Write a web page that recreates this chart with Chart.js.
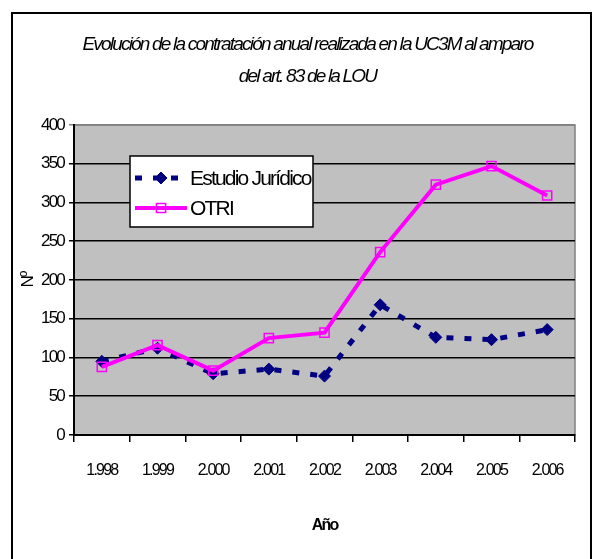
<!DOCTYPE html>
<html>
<head>
<meta charset="utf-8">
<script src="https://cdn.jsdelivr.net/npm/chart.js@4"></script>
<style>
  html, body { margin: 0; padding: 0; background: #fff; }
  canvas { display: block; }
</style>
</head>
<body>
<canvas id="chart" width="596" height="559"></canvas>
<script>
const years = ['1.998', '1.999', '2.000', '2.001', '2.002', '2.003', '2.004', '2.005', '2.006'];
const estudioJuridico = [95, 112, 79, 85, 76, 168, 126, 123, 136];
const otri = [88, 116, 83, 125, 132, 236, 323, 347, 309];
const yTicks = [0, 50, 100, 150, 200, 250, 300, 350, 400];

const fontFamily = "'Liberation Sans', Arial, sans-serif";
Chart.defaults.font.family = fontFamily;
Chart.defaults.color = '#000';

// the original uses a very narrow face, squeeze the letters a bit
const squeeze = '-1.8px';

// grey plot area + outer frame
const plotBg = {
  id: 'plotBg',
  beforeUpdate(chart) {
    chart.ctx.letterSpacing = squeeze;
  },
  afterLayout(chart) {
    // title sits a little right of the canvas centre in the original
    if (chart.titleBlock) chart.titleBlock.left += 40;
  },
  beforeDraw(chart) {
    const { ctx, chartArea: a } = chart;
    ctx.letterSpacing = squeeze;
    ctx.save();
    ctx.fillStyle = '#fff';
    ctx.fillRect(0, 0, chart.width, chart.height);
    ctx.strokeStyle = '#000';
    ctx.lineWidth = 2;
    ctx.strokeRect(12, 13, chart.width - 17, chart.height + 20);
    ctx.fillStyle = '#c0c0c0';
    ctx.fillRect(a.left, a.top, a.width, a.height);
    ctx.strokeStyle = '#808080';
    ctx.lineWidth = 1.5;
    ctx.strokeRect(a.left, a.top, a.width, a.height);
    ctx.restore();
  }
};

// legend box inside the plot
const boxLegend = {
  id: 'boxLegend',
  afterDatasetsDraw(chart) {
    const { ctx, chartArea: a } = chart;
    const x = a.left + 56, y = a.top + 31, w = 183, h = 71;
    ctx.save();
    ctx.fillStyle = '#fff';
    ctx.fillRect(x, y, w, h);
    ctx.strokeStyle = '#000';
    ctx.lineWidth = 1.5;
    ctx.strokeRect(x, y, w, h);

    const rows = [y + 22, y + 52];
    chart.data.datasets.forEach((ds, i) => {
      const ry = rows[i];
      ctx.save();
      ctx.strokeStyle = ds.borderColor;
      ctx.lineWidth = ds.borderWidth;
      ctx.setLineDash(ds.borderDash || []);
      ctx.beginPath();
      ctx.moveTo(x + 5, ry);
      ctx.lineTo(x + 57, ry);
      ctx.stroke();
      ctx.restore();

      ctx.save();
      ctx.fillStyle = ds.pointBackgroundColor;
      ctx.strokeStyle = ds.pointBorderColor;
      ctx.lineWidth = ds.pointBorderWidth;
      Chart.helpers.drawPoint(ctx, {
        pointStyle: ds.pointStyle,
        radius: ds.pointRadius,
        borderWidth: ds.pointBorderWidth
      }, x + 31, ry);
      ctx.restore();

      ctx.fillStyle = '#000';
      ctx.font = '21px ' + fontFamily;
      ctx.textBaseline = 'middle';
      ctx.textAlign = 'left';
      ctx.fillText(ds.label, x + 60, ry + 1);
    });
    ctx.restore();
  }
};

new Chart(document.getElementById('chart'), {
  type: 'line',
  data: {
    labels: years,
    datasets: [
      {
        label: 'Estudio Jurídico',
        data: estudioJuridico,
        borderColor: '#000080',
        backgroundColor: '#000080',
        borderWidth: 5,
        borderDash: [7, 11],
        borderCapStyle: 'butt',
        pointStyle: 'rectRot',
        pointRadius: 6,
        pointBorderWidth: 1,
        pointBackgroundColor: '#000080',
        pointBorderColor: '#000080',
        tension: 0,
        order: 2
      },
      {
        label: 'OTRI',
        data: otri,
        borderColor: '#ff00ff',
        backgroundColor: 'rgba(0,0,0,0)',
        borderWidth: 4,
        pointStyle: 'rect',
        pointRadius: 6.5,
        pointBorderWidth: 1.5,
        pointBackgroundColor: 'rgba(0,0,0,0)',
        pointBorderColor: '#ff00ff',
        tension: 0,
        order: 1
      }
    ]
  },
  options: {
    responsive: false,
    animation: false,
    layout: { padding: { top: 29, left: 0, right: 21, bottom: 0 } },
    plugins: {
      legend: { display: false },
      tooltip: { enabled: false },
      title: {
        display: true,
        text: ['Evolución de la contratación anual realizada en la UC3M al amparo', 'del art. 83 de la LOU'],
        font: { size: 19, style: 'italic', weight: 'normal', lineHeight: 1.684 },
        color: '#000',
        padding: { top: 0, bottom: 32 }
      }
    },
    scales: {
      x: {
        offset: true,
        grid: {
          display: true,
          drawOnChartArea: false,
          drawTicks: true,
          tickLength: 7,
          offset: true,
          color: '#000',
          lineWidth: 1.5
        },
        border: { color: '#000', width: 2 },
        ticks: { font: { size: 16 }, color: '#000', padding: 19, maxRotation: 0 },
        title: {
          display: true,
          text: 'Año',
          font: { size: 16, weight: 'bold' },
          color: '#000',
          padding: { top: 0, bottom: 24 }
        },
        afterFit(scale) { scale.height = 124; }
      },
      y: {
        min: 0,
        max: 400,
        afterBuildTicks(scale) { scale.ticks = yTicks.map(v => ({ value: v })); },
        grid: {
          color: ctx => (ctx.tick && ctx.tick.value === 400 ? '#808080' : '#000'),
          lineWidth: 1.5,
          tickLength: 5,
          drawTicks: true
        },
        border: { color: '#000', width: 2 },
        ticks: { font: { size: 17 }, color: '#000', padding: 5 },
        title: {
          display: true,
          text: 'Nº',
          font: { size: 17 },
          color: '#000',
          padding: { top: 18, bottom: 0 }
        },
        afterFit(scale) { scale.width = 74; }
      }
    }
  },
  plugins: [plotBg, boxLegend]
});
</script>
</body>
</html>
